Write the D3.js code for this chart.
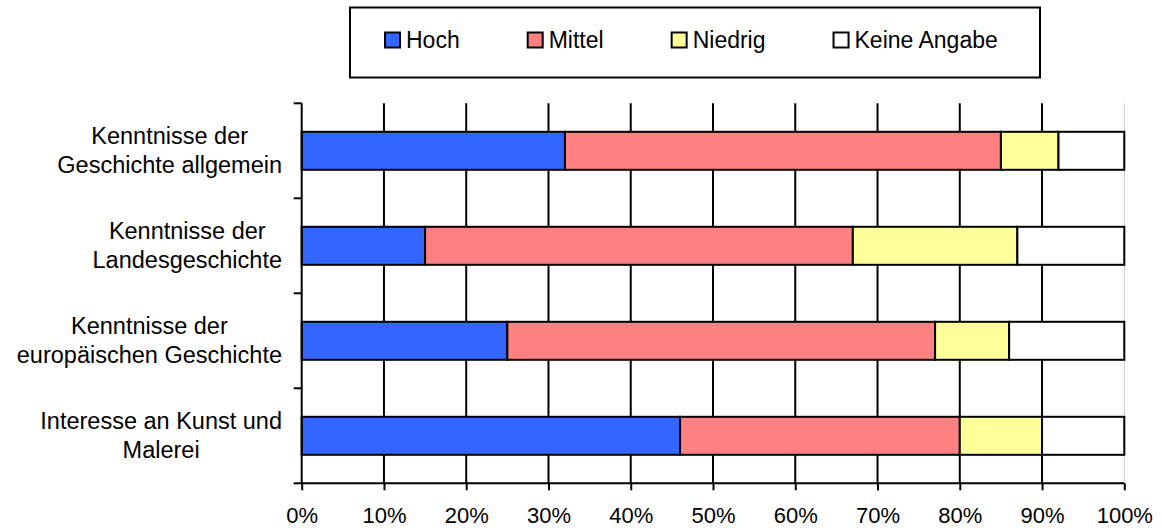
<!DOCTYPE html>
<html>
<head>
<meta charset="utf-8">
<script src="https://cdn.jsdelivr.net/npm/d3@7"></script>
<style>
  body { margin: 0; background: #fff; }
  text { font-family: "Liberation Sans", Arial, sans-serif; fill: #000; }
</style>
</head>
<body>
<script>
// ---- data ----
const categories = [
    ['Kenntnisse der', 'Geschichte allgemein'],
    ['Kenntnisse der', 'Landesgeschichte'],
    ['Kenntnisse der', 'europäischen Geschichte'],
    ['Interesse an Kunst und', 'Malerei']
]
const seriesNames = ['Hoch', 'Mittel', 'Niedrig', 'Keine Angabe']
const hoch = [32, 15, 25, 46]
const mittel = [53, 52, 52, 34]
const niedrig = [7, 20, 9, 10]
const keine = [8, 13, 14, 10]
const tickValues = [0, 10, 20, 30, 40, 50, 60, 70, 80, 90, 100]
const tickLabels = ['0%', '10%', '20%', '30%', '40%', '50%', '60%', '70%', '80%', '90%', '100%']

const colors = ['#3366FF', '#FF8080', '#FFFF99', '#FFFFFF']

const W = 1162, H = 528
const plot = { left: 301.7, right: 1124.3, top: 103.3, bottom: 483.3 }

const svg = d3.select('body').append('svg')
    .attr('width', W)
    .attr('height', H)

const rows = categories.map((c, i) => ({
    key: i,
    'Hoch': hoch[i],
    'Mittel': mittel[i],
    'Niedrig': niedrig[i],
    'Keine Angabe': keine[i]
}))

const x = d3.scaleLinear()
    .domain([0, 100])
    .range([plot.left, plot.right])

const y = d3.scaleBand()
    .domain(rows.map(d => d.key))
    .range([plot.top, plot.bottom])
    .paddingInner(0.6)
    .paddingOuter(0.3)

const color = d3.scaleOrdinal()
    .domain(seriesNames)
    .range(colors)

// gridlines
svg.append('g')
    .selectAll('line')
    .data(tickValues.filter(v => v > 0))
    .enter().append('line')
    .attr('x1', d => x(d))
    .attr('x2', d => x(d))
    .attr('y1', plot.top)
    .attr('y2', plot.bottom)
    .attr('stroke', d => d === 100 ? '#c8c8c8' : '#000')
    .attr('stroke-width', d => d === 100 ? 1 : 2)

// bars
const stacked = d3.stack().keys(seriesNames)(rows)
svg.append('g')
    .selectAll('g')
    .data(stacked)
    .enter().append('g')
    .attr('fill', d => color(d.key))
    .selectAll('rect')
    .data(d => d)
    .enter().append('rect')
    .attr('x', d => x(d[0]))
    .attr('y', d => y(d.data.key))
    .attr('width', d => x(d[1]) - x(d[0]))
    .attr('height', y.bandwidth())
    .attr('stroke', '#000')
    .attr('stroke-width', 2)

// x axis
const xAxis = svg.append('g')
    .attr('transform', 'translate(0,' + plot.bottom + ')')
    .call(d3.axisBottom(x)
        .tickValues(tickValues)
        .tickFormat((d, i) => tickLabels[i])
        .tickSize(7)
        .tickPadding(17))
xAxis.selectAll('path, line').attr('stroke', '#000').attr('stroke-width', 2)
xAxis.select('.domain').attr('d', 'M' + plot.left + ',0H' + plot.right)
xAxis.selectAll('text')
    .style('font-size', '22px')
    .style('font-family', '"Liberation Sans", Arial, sans-serif')
    .attr('dy', '0.71em')

// y axis (band boundaries as ticks)
const bounds = d3.range(categories.length + 1).map(i => plot.top + i * y.step())
svg.append('line')
    .attr('x1', plot.left).attr('x2', plot.left)
    .attr('y1', plot.top).attr('y2', plot.bottom)
    .attr('stroke', '#000').attr('stroke-width', 2)
svg.append('g')
    .selectAll('line')
    .data(bounds)
    .enter().append('line')
    .attr('x1', plot.left - 8)
    .attr('x2', plot.left)
    .attr('y1', d => d)
    .attr('y2', d => d)
    .attr('stroke', '#000')
    .attr('stroke-width', 2)

// category labels, centered block with right edge near the axis
const labelRight = 282
const lineH = 29
const labels = svg.append('g')
    .style('font-size', '23.5px')
categories.forEach((lines, i) => {
    const t = labels.append('text').attr('text-anchor', 'middle')
    const cy = y(i) + y.bandwidth() / 2
    lines.forEach((ln, j) => {
        t.append('tspan')
            .attr('x', 0)
            .attr('y', cy + (j - (lines.length - 1) / 2) * lineH + 8)
            .text(ln)
    })
    const w = t.node().getBBox().width
    t.selectAll('tspan').attr('x', labelRight - w / 2)
})

// legend
const legend = svg.append('g')
legend.append('rect')
    .attr('x', 350).attr('y', 7.5)
    .attr('width', 690).attr('height', 70)
    .attr('fill', '#fff')
    .attr('stroke', '#000')
    .attr('stroke-width', 2)

let lx = 385
seriesNames.forEach(name => {
    legend.append('rect')
        .attr('x', lx).attr('y', 32.5)
        .attr('width', 15).attr('height', 15)
        .attr('fill', color(name))
        .attr('stroke', '#000')
        .attr('stroke-width', 2)
    const t = legend.append('text')
        .attr('x', lx + 21)
        .attr('y', 48)
        .style('font-size', '23px')
        .text(name)
    lx = lx + 21 + t.node().getComputedTextLength() + 68
})
</script>
</body>
</html>
